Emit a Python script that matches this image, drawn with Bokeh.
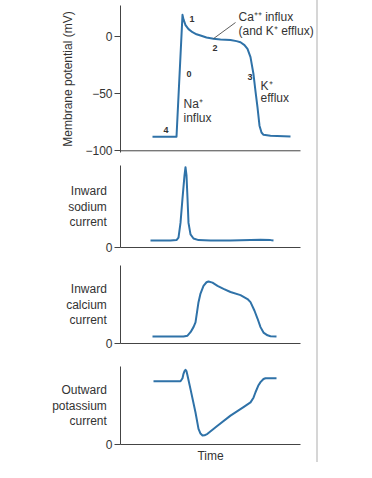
from bokeh.plotting import figure
from bokeh.models import Label, FixedTicker, Div, Range1d
from bokeh.layouts import column, row
from bokeh.embed import file_html
from bokeh.resources import INLINE

# ---- data (time in arbitrary units, currents in arbitrary units) ----
vm_t = [32, 56, 62, 63, 65, 68, 72, 76, 80, 86, 93, 100, 110, 116, 120, 124, 127,
        130, 133, 135, 137, 139, 141, 143, 150, 170]
vm_v = [-87.7, -87.7, 19, 15, 10, 6.5, 3.8, 2, 0.9, -0.8, -2, -2.5, -3, -4, -5, -7.5,
        -10.8, -18, -33, -48, -62, -78, -84, -86, -86.8, -87.5]

na_t = [30, 50, 56, 58, 60, 62, 64, 65, 66, 67, 68, 70, 73, 78, 90, 110, 130, 140, 150, 153]
na_v = [8.5, 8.5, 9, 12, 30, 60, 88, 98, 88, 60, 30, 16, 11, 9, 8.5, 8.6, 9.2, 9.5, 9, 8.5]

ca_t = [32, 63, 67, 70, 73, 75, 78, 80, 83, 86, 88, 92, 97, 103, 110, 120, 127, 130, 134,
        137, 140, 143, 147, 150, 156]
ca_v = [9, 9, 10, 14.5, 21, 27, 53, 64, 74, 78.5, 79.5, 78, 74, 70, 66, 62, 57, 53, 42,
        32, 21, 14, 10.5, 9.4, 9]

k_t = [33, 60, 62, 63, 64, 65, 66, 67, 70, 75, 78, 80, 82, 84, 87, 97, 110, 123, 130, 133,
       135, 138, 140, 143, 145, 156]
k_v = [81, 81, 85, 90.6, 94, 95.7, 94, 88.5, 71, 41, 20, 14, 11.5, 11.8, 13.7, 24, 37, 48,
       54, 60, 67, 76, 80, 84, 85, 85]

vm_ticks = [-100, -50, 0]
vm_tick_labels = {-100: "\u2212100", -50: "\u221250", 0: "0"}
time_end = 180

phase_labels = ["1", "2", "0", "3", "4"]
phase_x = [69, 92, 66, 127, 43]
phase_y = [15.8, -9.6, -33, -35, -82]

LINE = "#2f72a8"
TXT = "#333333"
AX = "#444444"
FONT = "Liberation Sans"


def style_axes(p):
    for ax in (p.xaxis[0], p.yaxis[0]):
        ax.axis_line_color = AX
        ax.axis_line_width = 1
        ax.major_tick_line_color = AX
        ax.minor_tick_line_color = None
        ax.major_label_text_font = FONT
        ax.major_label_text_font_size = "12px"
        ax.major_label_text_color = TXT
        ax.axis_label_text_font = FONT
        ax.axis_label_text_font_style = "normal"
        ax.axis_label_text_color = TXT
    p.xaxis.ticker = FixedTicker(ticks=[])
    p.xaxis.major_tick_out = 0
    p.xaxis.major_tick_in = 0
    p.xaxis.major_label_standoff = 0
    p.yaxis.major_tick_out = 6
    p.yaxis.major_tick_in = 0
    p.yaxis.major_label_standoff = 2


def lab(p, x, y, text, align="left", size="12px", style="normal"):
    p.add_layout(Label(x=x, y=y, text=text, text_align=align, text_baseline="middle",
                       text_font=FONT, text_font_size=size, text_font_style=style,
                       text_color=TXT))


# ---- panel 1: membrane potential ----
p1 = figure(frame_width=196, frame_height=147,
            x_range=Range1d(0, 196), y_range=Range1d(-101.5, 27.2),
            output_backend="svg", toolbar_location=None,
            min_border_left=120, min_border_right=0, min_border_top=5, min_border_bottom=6)
p1.outline_line_color = None
p1.grid.visible = False
style_axes(p1)
p1.xaxis.visible = False
p1.yaxis.ticker = FixedTicker(ticks=vm_ticks)
p1.yaxis.major_label_overrides = vm_tick_labels
p1.yaxis.axis_label = "Membrane potential (mV)"
p1.yaxis.axis_label_text_font_size = "12px"
p1.yaxis.axis_label_standoff = 7
# time axis line of the top panel
p1.segment(x0=[0], y0=[-100], x1=[time_end], y1=[-100], line_color=AX, line_width=1)
p1.line(vm_t, vm_v, line_color=LINE, line_width=2, line_join="round")
for s, x, y in zip(phase_labels, phase_x, phase_y):
    lab(p1, x, y, s, size="9px", style="bold")
lab(p1, 63, -59, "Na\u207a")
lab(p1, 63, -71, "influx")
lab(p1, 140, -43, "K\u207a")
lab(p1, 140, -54, "efflux")
lab(p1, 118, 17.5, "Ca\u207a\u207a influx")
lab(p1, 118, 5.3, "(and K\u207a efflux)")
p1.line([115, 93], [12.3, -1.8], line_color=TXT, line_width=0.8)

xr = Range1d(0, time_end)


def cur_fig(fh, top, bottom, t, v, text):
    p = figure(frame_width=180, frame_height=fh, x_range=xr, y_range=Range1d(0, 100),
               output_backend="svg", toolbar_location=None,
               min_border_left=120, min_border_right=16,
               min_border_top=top, min_border_bottom=bottom)
    p.outline_line_color = None
    p.grid.visible = False
    style_axes(p)
    p.yaxis.ticker = FixedTicker(ticks=[0])
    p.yaxis.axis_label = text
    p.yaxis.axis_label_orientation = "horizontal"
    p.yaxis.axis_label_text_font_size = "12px"
    p.yaxis.axis_label_text_align = "right"
    p.yaxis.axis_label_text_line_height = 1.12
    p.yaxis.axis_label_standoff = -4
    p.line(t, v, line_color=LINE, line_width=2, line_join="round")
    return p


p2 = cur_fig(82, 7, 8, na_t, na_v, "Inward\nsodium\ncurrent")
p3 = cur_fig(78, 10, 9, ca_t, ca_v, "Inward\ncalcium\ncurrent")
p4 = cur_fig(78, 14, 26, k_t, k_v, "Outward\npotassium\ncurrent")
p4.xaxis.axis_label = "Time"
p4.xaxis.axis_label_text_font_size = "12px"
p4.xaxis.axis_label_standoff = 4

col = column(p1, p2, p3, p4, spacing=0)
edge = Div(width=2, height=462, margin=0, styles={"background-color": "#d6d6d6"})
layout = row(col, edge, spacing=0)

open("out.html", "w").write(file_html(layout, INLINE))
